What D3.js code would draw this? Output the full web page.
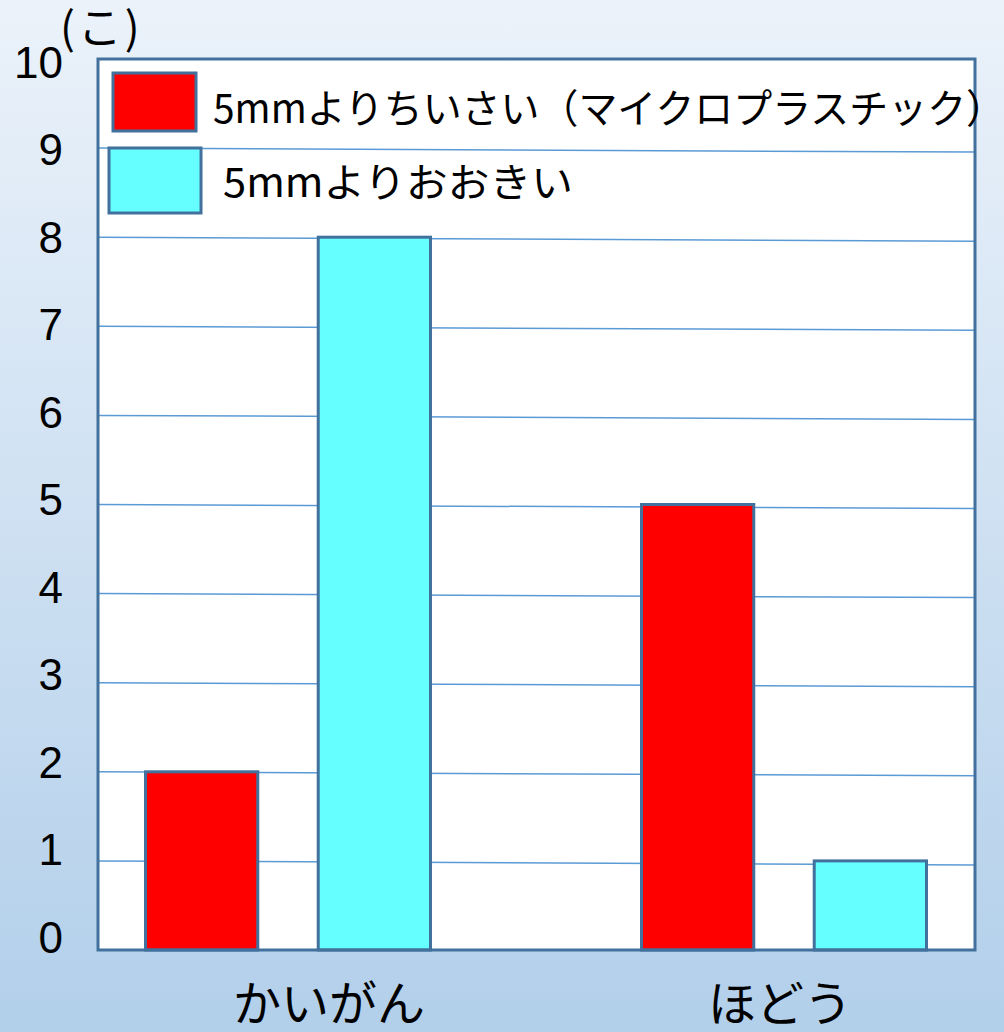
<!DOCTYPE html>
<html>
<head>
<meta charset="utf-8">
<script src="https://cdn.jsdelivr.net/npm/d3@7"></script>
<style>
  body { margin: 0; }
  svg { display: block; }
</style>
</head>
<body>
<div id="app"></div>
<script>
// data
const categories = ["かいがん", "ほどう"];
const seriesNames = ["5mmよりちいさい（マイクロプラスチック）", "5mmよりおおきい"];
const smallValues = [2, 5];   // red
const largeValues = [8, 1];   // cyan
const yTicks = [0, 1, 2, 3, 4, 5, 6, 7, 8, 9, 10];
const unitLabel = "(こ)";

const colors = ["#ff0000", "#66ffff"];
const edge = "#41719c";

const width = 1004;
const height = 1032;
const plot = { left: 98, right: 975, top: 59, bottom: 950 };

const jp = "'Noto Sans CJK JP', sans-serif";

const svg = d3.select('#app')
  .append('svg')
  .attr('width', width)
  .attr('height', height);

// background gradient
const grad = svg.append('defs')
  .append('linearGradient')
  .attr('id', 'bg')
  .attr('x1', 0).attr('y1', 0).attr('x2', 0).attr('y2', 1);
grad.append('stop').attr('offset', '0%').attr('stop-color', '#ebf2fa');
grad.append('stop').attr('offset', '100%').attr('stop-color', '#b2cfea');

svg.append('rect')
  .attr('width', width)
  .attr('height', height)
  .attr('fill', 'url(#bg)');

const y = d3.scaleLinear().domain([0, 10]).range([plot.bottom, plot.top]);
// labels sit a little above their gridlines
const yLabel = d3.scaleLinear().domain([0, 10]).range([937, 62]);

const x0 = d3.scaleBand().domain(categories).range([40, 1032]);
const x1 = d3.scaleBand().domain(seriesNames).range([0, 285]).paddingInner(0.35);
const groupLeft = c => x0(c) + x0.bandwidth() / 2 - 142.5;

// plot area
svg.append('rect')
  .attr('x', plot.left)
  .attr('y', plot.top)
  .attr('width', plot.right - plot.left)
  .attr('height', plot.bottom - plot.top)
  .attr('fill', '#ffffff');

// gridlines (slightly tilted, as in the picture)
svg.append('g')
  .selectAll('line')
  .data(yTicks.filter(v => v > 0 && v < 10))
  .enter()
  .append('line')
  .attr('x1', plot.left)
  .attr('x2', plot.right)
  .attr('y1', d => y(d))
  .attr('y2', d => y(d) + 4)
  .attr('stroke', '#5b9bd5')
  .attr('stroke-width', 1.5);

// bars
const rows = categories.map((c, i) => ({
  cat: c,
  vals: [
    { s: seriesNames[0], v: smallValues[i], color: colors[0] },
    { s: seriesNames[1], v: largeValues[i], color: colors[1] }
  ]
}));

svg.append('g')
  .selectAll('g')
  .data(rows)
  .enter()
  .append('g')
  .attr('transform', d => 'translate(' + groupLeft(d.cat) + ',0)')
  .selectAll('rect')
  .data(d => d.vals)
  .enter()
  .append('rect')
  .attr('x', d => x1(d.s))
  .attr('width', x1.bandwidth())
  .attr('y', d => y(d.v))
  .attr('height', d => y(0) - y(d.v))
  .attr('fill', d => d.color)
  .attr('stroke', edge)
  .attr('stroke-width', 3);

// plot border
svg.append('rect')
  .attr('x', plot.left)
  .attr('y', plot.top)
  .attr('width', plot.right - plot.left)
  .attr('height', plot.bottom - plot.top)
  .attr('fill', 'none')
  .attr('stroke', edge)
  .attr('stroke-width', 3);

// y tick labels
svg.append('g')
  .selectAll('text')
  .data(yTicks)
  .enter()
  .append('text')
  .attr('x', 63)
  .attr('y', d => yLabel(d))
  .attr('dy', '0.36em')
  .attr('text-anchor', 'end')
  .attr('font-family', "'Liberation Sans', Arial, sans-serif")
  .attr('font-size', 44)
  .attr('fill', '#000')
  .text(d => d);

svg.append('text')
  .attr('x', 60)
  .attr('y', 44)
  .attr('font-family', jp)
  .attr('font-size', 44)
  .attr('letter-spacing', 3)
  .attr('fill', '#000')
  .text(unitLabel);

// category labels
const labelShift = [41, -4];
svg.append('g')
  .selectAll('text')
  .data(categories)
  .enter()
  .append('text')
  .attr('x', (d, i) => x0(d) + x0.bandwidth() / 2 + labelShift[i])
  .attr('y', 1021)
  .attr('text-anchor', 'middle')
  .attr('font-family', jp)
  .attr('font-size', 48)
  .attr('fill', '#000')
  .text(d => d);

// legend
const legendLayout = [
  { x: 113, y: 73, w: 83, h: 58, tx: 213, ty: 123, len: 792 },
  { x: 109, y: 148, w: 92, h: 65, tx: 223, ty: 197, len: 350 }
];

const legend = svg.append('g')
  .selectAll('g')
  .data(seriesNames)
  .enter()
  .append('g');

legend.append('rect')
  .attr('x', (d, i) => legendLayout[i].x)
  .attr('y', (d, i) => legendLayout[i].y)
  .attr('width', (d, i) => legendLayout[i].w)
  .attr('height', (d, i) => legendLayout[i].h)
  .attr('fill', (d, i) => colors[i])
  .attr('stroke', edge)
  .attr('stroke-width', 3);

legend.append('text')
  .attr('x', (d, i) => legendLayout[i].tx)
  .attr('y', (d, i) => legendLayout[i].ty)
  .attr('textLength', (d, i) => legendLayout[i].len)
  .attr('lengthAdjust', 'spacingAndGlyphs')
  .attr('font-family', jp)
  .attr('font-size', 40)
  .attr('fill', '#000')
  .text(d => d);
</script>
</body>
</html>
